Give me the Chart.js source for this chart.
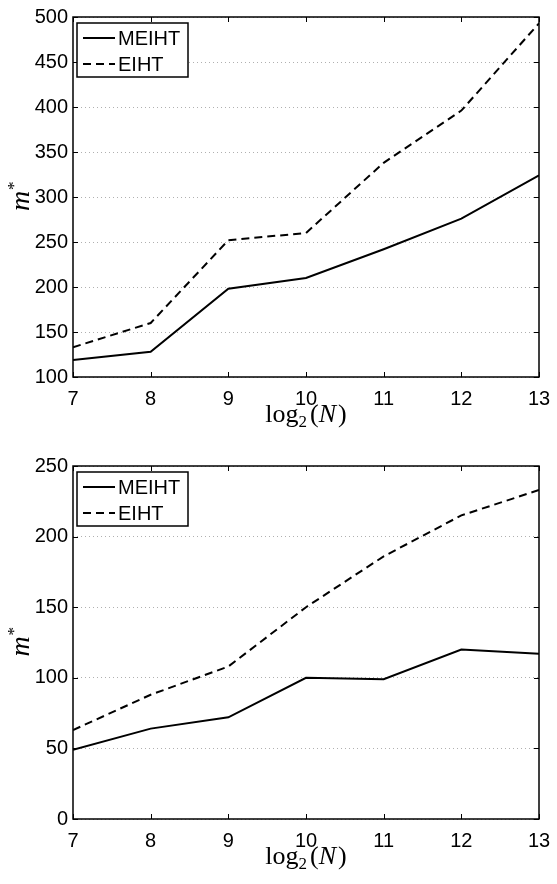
<!DOCTYPE html>
<html>
<head>
<meta charset="utf-8">
<script src="https://cdn.jsdelivr.net/npm/chart.js@4.4.1/dist/chart.umd.min.js"></script>
<style>
  html, body { margin: 0; padding: 0; background: #fff; }
  .panel { position: absolute; left: 0; width: 557px; height: 442px; }
  #top { top: 0; }
  #bottom { top: 442px; }
</style>
</head>
<body>
<div class="panel" id="top"><canvas id="chartTop"></canvas></div>
<div class="panel" id="bottom"><canvas id="chartBottom"></canvas></div>
<script>
// x values: log2(N)
const log2N = [7, 8, 9, 10, 11, 12, 13];

// top panel
const meihtTop = [119, 128, 198, 210, 242, 276, 324];
const eihtTop = [133, 160, 252, 260, 338, 396, 493];
const yTicksTop = [100, 150, 200, 250, 300, 350, 400, 450, 500];

// bottom panel
const meihtBottom = [49, 64, 72, 100, 99, 120, 117];
const eihtBottom = [63, 88, 108, 150, 186, 215, 233];
const yTicksBottom = [0, 50, 100, 150, 200, 250];

const seriesNames = ['MEIHT', 'EIHT'];

const tickFont = { family: 'Liberation Sans, Arial, sans-serif', size: 20 };

// box, inward ticks, axis titles and legend in the matlab look
const matlabFrame = {
  id: 'matlabFrame',
  afterDatasetsDraw(chart) {
    const { ctx, chartArea: a, scales } = chart;
    const x = scales.x, y = scales.y;
    const tl = 5;
    ctx.save();
    ctx.strokeStyle = '#000';
    ctx.lineWidth = 1.5;
    ctx.strokeRect(a.left, a.top, a.right - a.left, a.bottom - a.top);
    ctx.lineWidth = 1;
    ctx.beginPath();
    for (const v of log2N) {
      const px = Math.round(x.getPixelForValue(v)) + 0.5;
      ctx.moveTo(px, a.bottom); ctx.lineTo(px, a.bottom - tl);
      ctx.moveTo(px, a.top); ctx.lineTo(px, a.top + tl);
    }
    for (const t of y.ticks) {
      const py = Math.round(y.getPixelForValue(t.value)) + 0.5;
      ctx.moveTo(a.left, py); ctx.lineTo(a.left + tl, py);
      ctx.moveTo(a.right, py); ctx.lineTo(a.right - tl, py);
    }
    ctx.stroke();

    // legend
    const lx = a.left + 4, ly = a.top + 6, lw = 111, lh = 54;
    ctx.fillStyle = '#fff';
    ctx.fillRect(lx, ly, lw, lh);
    ctx.lineWidth = 1.5;
    ctx.strokeRect(lx, ly, lw, lh);
    ctx.font = '20px Liberation Sans, Arial, sans-serif';
    ctx.textBaseline = 'middle';
    ctx.fillStyle = '#000';
    chart.data.datasets.forEach((ds, i) => {
      const cy = ly + 15 + i * 26;
      ctx.beginPath();
      ctx.lineWidth = 2;
      ctx.setLineDash(ds.borderDash || []);
      ctx.moveTo(lx + 6, cy); ctx.lineTo(lx + 38, cy);
      ctx.stroke();
      ctx.setLineDash([]);
      ctx.fillText(ds.label, lx + 41, cy + 1);
    });

    // x title: log2(N)
    const cx = (a.left + a.right) / 2;
    const by = a.bottom + 45;
    const parts = [
      { t: 'log', f: '26px Liberation Serif, serif', dy: 0 },
      { t: '2', f: '17px Liberation Serif, serif', dy: 5 },
      { t: '(', f: '26px Liberation Serif, serif', dy: 0, pre: 3 },
      { t: 'N', f: 'italic 26px Liberation Serif, serif', dy: 0 },
      { t: ')', f: '26px Liberation Serif, serif', dy: 0, pre: 2 },
    ];
    let total = 0;
    for (const p of parts) { ctx.font = p.f; p.w = ctx.measureText(p.t).width; total += p.w + (p.pre || 0); }
    let px = cx - total / 2;
    ctx.textBaseline = 'alphabetic';
    ctx.textAlign = 'left';
    for (const p of parts) {
      px += p.pre || 0;
      ctx.font = p.f;
      ctx.fillText(p.t, px, by + p.dy);
      px += p.w;
    }

    // y title: m*
    ctx.translate(29, (a.top + a.bottom) / 2);
    ctx.rotate(-Math.PI / 2);
    ctx.font = 'italic 28px Liberation Serif, serif';
    const mw = ctx.measureText('m').width;
    ctx.fillText('m', -mw / 2 - 4, 0);
    ctx.font = '17px Liberation Serif, serif';
    ctx.fillText('*', mw / 2 - 3, -10);
    ctx.restore();
  }
};

function makeChart(id, meiht, eiht, yTicks, topPad) {
  const yMin = yTicks[0], yMax = yTicks[yTicks.length - 1];
  return new Chart(document.getElementById(id), {
    type: 'line',
    data: {
      datasets: [{
        label: seriesNames[0],
        data: log2N.map((v, i) => ({ x: v, y: meiht[i] })),
        borderColor: '#000',
        borderWidth: 2,
        pointRadius: 0,
        tension: 0,
      }, {
        label: seriesNames[1],
        data: log2N.map((v, i) => ({ x: v, y: eiht[i] })),
        borderColor: '#000',
        borderWidth: 2,
        borderDash: [8, 5],
        pointRadius: 0,
        tension: 0,
      }]
    },
    options: {
      responsive: true,
      maintainAspectRatio: false,
      animation: false,
      layout: { padding: { top: topPad, right: 18, left: 0, bottom: 0 } },
      plugins: { legend: { display: false }, tooltip: { enabled: false } },
      scales: {
        x: {
          type: 'linear',
          min: log2N[0],
          max: log2N[log2N.length - 1],
          afterBuildTicks: (s) => { s.ticks = log2N.map(v => ({ value: v })); },
          grid: { display: false },
          border: { display: false },
          ticks: { color: '#000', font: tickFont, padding: 2, maxRotation: 0 },
          afterFit: (s) => { s.height = 65; },
        },
        y: {
          type: 'linear',
          min: yMin,
          max: yMax,
          afterBuildTicks: (s) => { s.ticks = yTicks.map(v => ({ value: v })); },
          grid: { color: '#b0b0b0', lineWidth: 1, drawTicks: false },
          border: { display: false, dash: [1, 3] },
          ticks: { color: '#000', font: tickFont, padding: 5 },
          afterFit: (s) => { s.width = 73; },
        }
      }
    },
    plugins: [matlabFrame]
  });
}

makeChart('chartTop', meihtTop, eihtTop, yTicksTop, 13);
makeChart('chartBottom', meihtBottom, eihtBottom, yTicksBottom, 24);
</script>
</body>
</html>
